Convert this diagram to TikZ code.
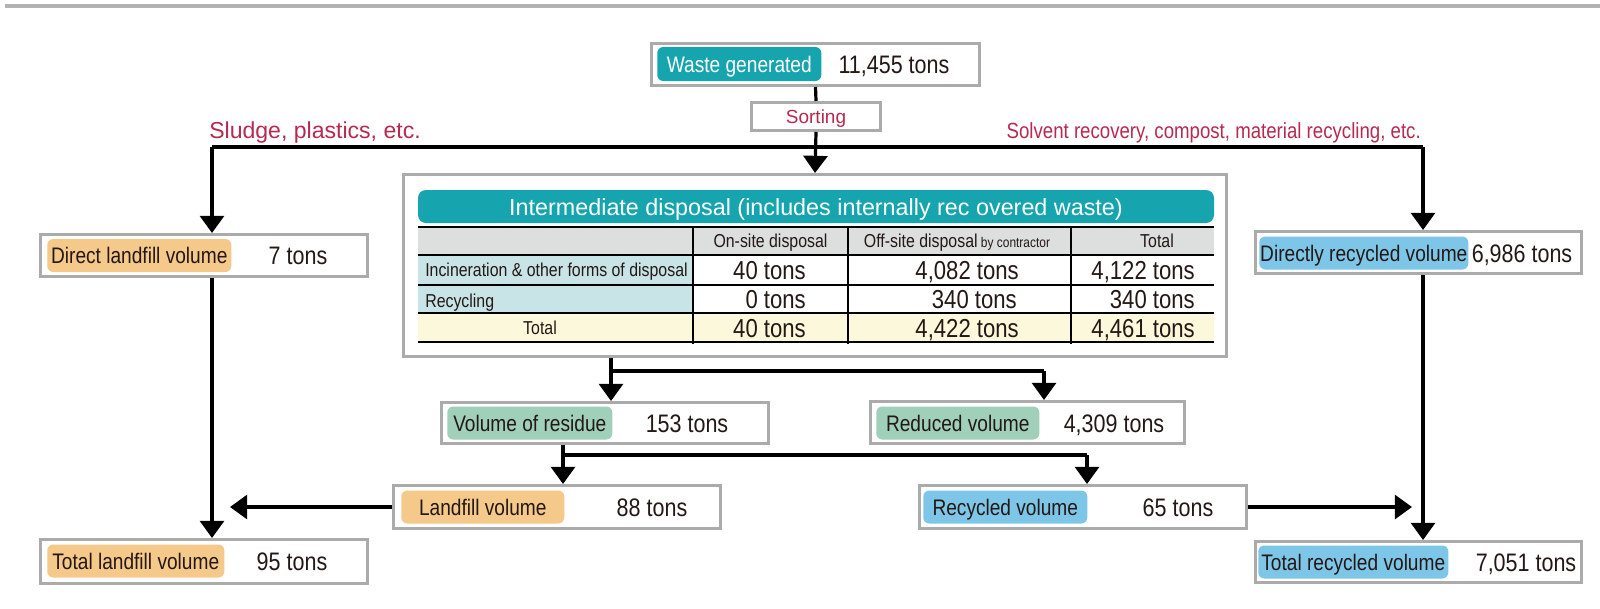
\documentclass[tikz,border=0pt]{standalone}
\usepackage{fontspec}
\setmainfont{Liberation Sans}[FakeStretch=0.85]
\newfontfamily\plainfont{Liberation Sans}
\usetikzlibrary{arrows.meta}
\definecolor{boxgray}{HTML}{ABABAB}
\definecolor{rulegray}{HTML}{B3B3B3}
\definecolor{wteal}{HTML}{16A5AF}
\definecolor{worange}{HTML}{F4C98A}
\definecolor{wgreen}{HTML}{A0CFBA}
\definecolor{wblue}{HTML}{7EC6E8}
\definecolor{wred}{HTML}{B8294F}
\definecolor{ink}{HTML}{231815}
\definecolor{cellgray}{HTML}{DDDEDE}
\definecolor{cellblue}{HTML}{C8E4E7}
\definecolor{cellyellow}{HTML}{FCF8DC}
\newcommand\tagfont{\fontsize{16}{18}\selectfont}
\newcommand\valfont{\fontsize{18}{20}\selectfont}
\newcommand\cellfont{\fontsize{13.3}{15}\selectfont}
\newcommand\numfont{\fontsize{18.5}{20}\selectfont}

\begin{document}
\begin{tikzpicture}[x=0.25mm, y=-0.25mm,
  box/.style={draw=boxgray, line width=0.75mm, fill=white, inner sep=0pt,
    minimum width=81.75mm, minimum height=10.5mm},
  tag/.style={rounded corners=1.5mm, inner sep=0pt, minimum height=8.25mm,
    font=\tagfont, text=ink, anchor=west, text height=11.5pt, text depth=0pt},
  val/.style={font=\valfont, text=ink, inner sep=0pt, text height=12.9pt, text depth=0pt},
  cell/.style={font=\cellfont, text=ink, inner sep=0pt, text height=9.5pt, text depth=0pt},
  num/.style={font=\numfont, text=ink, inner sep=0pt, anchor=east, text height=13.2pt, text depth=0pt},
  line/.style={line width=0.8mm},
  arr/.style={line width=0.8mm, -{Triangle[length=4.3mm, width=6mm]}}]
  \useasboundingbox (0,0) rectangle (1600,608);
  % top rule
  \draw[rulegray, line width=1mm] (5,6) -- (1600,6);
  % waste generated
  \node[box, minimum width=82mm] (waste) at (815.5,64.5) {};
  \node[tag, fill=wteal, text=white, minimum width=41mm, minimum height=8.5mm] (wastetag) at (657,64) {Waste generated};
  \node[val] (wasteval) at (894,64) {11,455 tons};
  % sorting
  \node[box, minimum width=32.25mm, minimum height=7mm, text=wred, text height=9.6pt, text depth=0pt,
    font=\plainfont\fontsize{13.5}{15}\selectfont] (sorting) at (816,116.5) {Sorting};
  \draw[line] (waste.south) -- (sorting.north);
  % branch labels
  \node[anchor=base west, inner sep=0pt, text=wred, font=\plainfont\fontsize{16.4}{18}\selectfont] (sludge) at (209,138) {Sludge, plastics, etc.};
  \node[anchor=base east, inner sep=0pt, text=wred, font=\fontsize{15.6}{18}\selectfont] (solvent) at (1421,138) {Solvent recovery, compost, material recycling, etc.};
  % direct landfill / direct recycling
  \node[box] (dland) at (204,255.5) {};
  \node[tag, fill=worange, minimum width=46mm] (dlandtag) at (47,255.5) {Direct landfill volume};
  \node[val] (dlandval) at (298,255.5) {7 tons};
  \node[box, minimum width=81.5mm] (drec) at (1418.5,252.5) {};
  \node[tag, fill=wblue, minimum width=52.25mm] (drectag) at (1259,253) {Directly recycled volume};
  \node[val] (drecval) at (1522,253) {6,986 tons};
  % totals
  \node[box, minimum height=11mm] (tland) at (204,561.5) {};
  \node[tag, fill=worange, minimum width=44.25mm] (tlandtag) at (47,561) {Total landfill volume};
  \node[val] (tlandval) at (292,561) {95 tons};
  \node[box, minimum width=81.5mm, minimum height=10.25mm] (trec) at (1418.5,562) {};
  \node[tag, fill=wblue, minimum width=47.5mm] (trectag) at (1258,562) {Total recycled volume};
  \node[val] (trecval) at (1526,562) {7,051 tons};
  % intermediate disposal
  \node[box, minimum width=205.75mm, minimum height=45.5mm] (inter) at (815,265.5) {};
  \draw[arr] (sorting.south) -- (inter.north);
  \fill[wteal, rounded corners=2mm] (418,190) rectangle (1214,223);
  \node[text=white, inner sep=0pt, text height=11.9pt, text depth=0pt,
    font=\plainfont\fontsize{16.6}{18}\selectfont] (intertitle) at (816,207) {Intermediate disposal (includes internally rec overed waste)};
  \fill[cellgray] (418,227) rectangle (1214,255);
  \fill[cellblue] (418,255) rectangle (693,313);
  \fill[cellyellow] (418,313) rectangle (1214,342);
  \draw[line width=0.5mm] (418,227) -- (1214,227);
  \foreach \y in {255,285,313,342}
    \draw[line width=0.35mm] (418,\y) -- (1214,\y);
  \foreach \x in {693,848,1071}
    \draw[line width=0.35mm] (\x,227) -- (\x,344);
  \node[cell] (hon) at (770.5,241) {On-site disposal};
  \node[cell] (hoff) at (957,241) {Off-site disposal{\fontsize{10}{12}\selectfont\ by contractor}};
  \node[cell] (htot) at (1157,241) {Total};
  \node[cell, anchor=west] (rinc) at (425,270) {Incineration \& other forms of disposal};
  \node[num] (inc1) at (806,270) {40 tons};
  \node[num] (inc2) at (1019,270) {4,082 tons};
  \node[num] (inc3) at (1195,270) {4,122 tons};
  \node[cell, anchor=west] (rrec) at (425,301) {Recycling};
  \node[num] (rec1) at (806,299) {0 tons};
  \node[num] (rec2) at (1017,299) {340 tons};
  \node[num] (rec3) at (1195,299) {340 tons};
  \node[cell] (rtot) at (540,328) {Total};
  \node[num] (tot1) at (806,328) {40 tons};
  \node[num] (tot2) at (1019,328) {4,422 tons};
  \node[num] (tot3) at (1195,328) {4,461 tons};
  % residue / reduced
  \node[box, minimum height=10.25mm] (resid) at (605,423) {};
  \node[tag, fill=wgreen, minimum width=41.25mm] (residtag) at (447,423) {Volume of residue};
  \node[val] (residval) at (687,423) {153 tons};
  \node[box, minimum width=78.5mm] (reduc) at (1027.5,422.5) {};
  \node[tag, fill=wgreen, minimum width=40.75mm] (reductag) at (876,423) {Reduced volume};
  \node[val] (reducval) at (1114,423) {4,309 tons};
  % landfill / recycled
  \node[box, minimum height=10.75mm] (land) at (557,507) {};
  \node[tag, fill=worange, minimum width=40.75mm] (landtag) at (401,507) {Landfill volume};
  \node[val] (landval) at (652,507) {88 tons};
  \node[box, minimum height=10.75mm] (recy) at (1083,507) {};
  \node[tag, fill=wblue, minimum width=41mm] (recytag) at (923,507) {Recycled volume};
  \node[val] (recyval) at (1178,507) {65 tons};
  % first split
  \coordinate (lsplit) at (212,147);
  \coordinate (rsplit) at (1423,147);
  \draw[line] (lsplit) -- (rsplit);
  \draw[arr] (lsplit) -- (lsplit |- dland.north);
  \draw[arr] (rsplit) -- (rsplit |- drec.north);
  \draw[arr] (lsplit |- dland.south) -- (lsplit |- tland.north);
  \draw[arr] (rsplit |- drec.south) -- (rsplit |- trec.north);
  % split below intermediate disposal
  \coordinate (isplit) at (611,371);
  \coordinate (isplitr) at (1044,371);
  \draw[line] (isplit |- inter.south) -- (isplit) -- (isplitr);
  \draw[arr] (isplit) -- (isplit |- resid.north);
  \draw[arr] (isplitr) -- (isplitr |- reduc.north);
  % split below residue
  \coordinate (rsplit2) at (563,455);
  \coordinate (rsplit2r) at (1087,455);
  \draw[line] (rsplit2 |- resid.south) -- (rsplit2) -- (rsplit2r);
  \draw[arr] (rsplit2) -- (rsplit2 |- land.north);
  \draw[arr] (rsplit2r) -- (rsplit2r |- recy.north);
  % into totals
  \coordinate (ltip) at (230,507);
  \coordinate (rtip) at (1412,507);
  \draw[arr] (land.west) -- (ltip);
  \draw[arr] (recy.east) -- (rtip);
\end{tikzpicture}
\end{document}
